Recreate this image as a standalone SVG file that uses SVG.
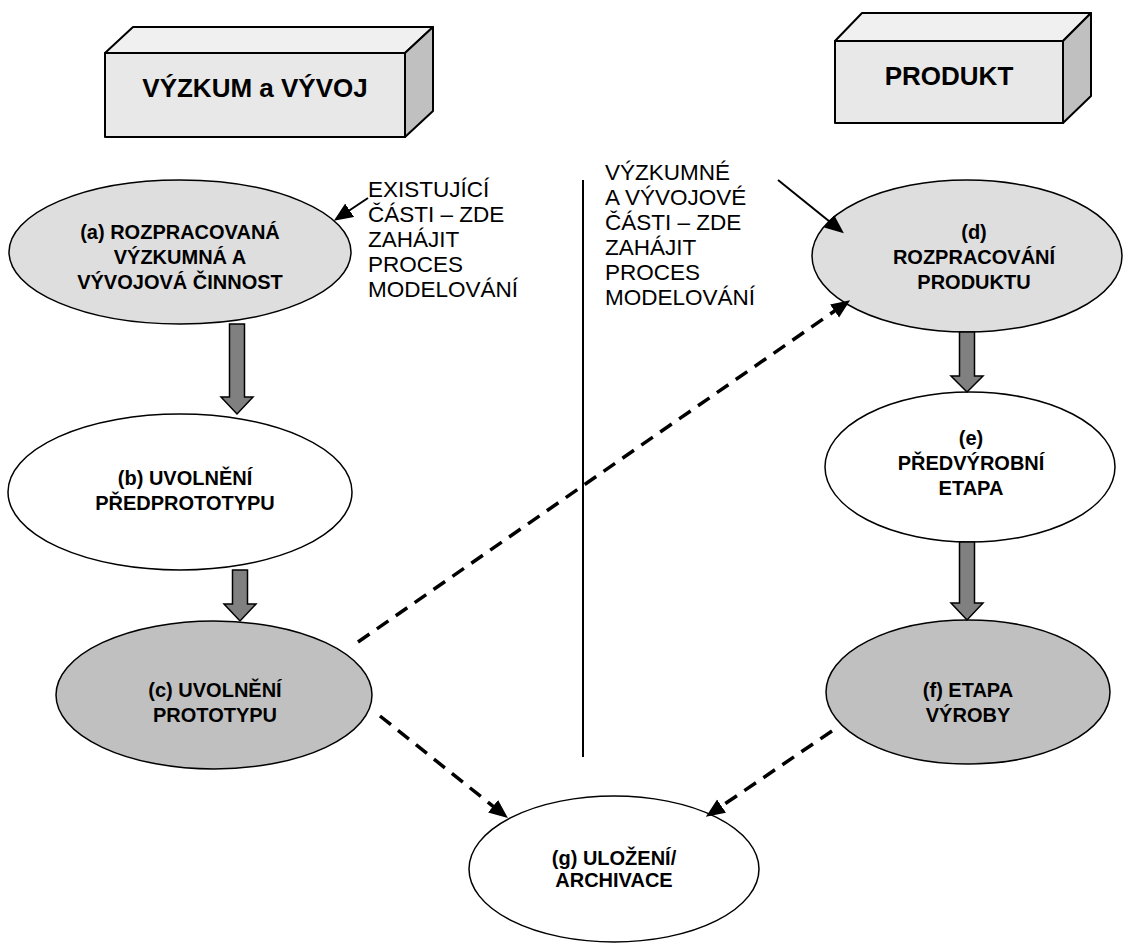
<svg xmlns="http://www.w3.org/2000/svg" width="1131" height="945" viewBox="0 0 1131 945">
<defs>
<marker id="ah" markerUnits="userSpaceOnUse" markerWidth="20" markerHeight="18" refX="14" refY="8" orient="auto">
<path d="M0,0 L19,8 L0,16 Z" fill="#000"/>
</marker>
<style>
.bf{fill:#e8e8e8;stroke:#000;stroke-width:2;stroke-linejoin:round}
.bt{fill:#f0f0f0;stroke:#000;stroke-width:2;stroke-linejoin:round}
.br{fill:#c0c0c0;stroke:#000;stroke-width:2;stroke-linejoin:round}
.hd{font-family:"Liberation Sans",Arial,sans-serif;font-weight:bold;font-size:26px;text-anchor:middle;fill:#000}
.nt{font-family:"Liberation Sans",Arial,sans-serif;font-weight:bold;font-size:20px;text-anchor:middle;fill:#000}
.st{font-family:"Liberation Sans",Arial,sans-serif;font-size:22.5px;fill:#000}
.e{stroke:#000;stroke-width:1.5}
.lg{fill:#dedede}
.dg{fill:#c0c0c0}
.wh{fill:#fff}
.blk{fill:#808080;stroke:#000;stroke-width:1.5;stroke-linejoin:miter}
.dash{fill:none;stroke:#000;stroke-width:3.5;stroke-dasharray:14 9}
.sol{fill:none;stroke:#000;stroke-width:2}
</style>
</defs>
<rect width="1131" height="945" fill="#fff"/>

<g id="box-vyzkum">
<polygon class="bt" points="105,53 133,27 433,27 405,53"/>
<polygon class="br" points="405,53 433,27 433,111 405,137"/>
<rect class="bf" x="105" y="53" width="300" height="84"/>
<text class="hd" x="255" y="97">VÝZKUM a VÝVOJ</text>
</g>

<g id="box-produkt">
<polygon class="bt" points="835,41 862,13 1091,13 1063,41"/>
<polygon class="br" points="1063,41 1091,13 1091,96 1063,123"/>
<rect class="bf" x="835" y="41" width="228" height="82"/>
<text class="hd" x="949" y="85">PRODUKT</text>
</g>

<g id="divider">
<line x1="583" y1="180" x2="583" y2="757" stroke="#000" stroke-width="2"/>
</g>

<g id="note-left">
<text class="st" x="368" y="197">EXISTUJÍCÍ</text>
<text class="st" x="368" y="222">ČÁSTI – ZDE</text>
<text class="st" x="368" y="247">ZAHÁJIT</text>
<text class="st" x="368" y="272">PROCES</text>
<text class="st" x="368" y="297">MODELOVÁNÍ</text>
</g>

<g id="note-right">
<text class="st" x="605" y="180">VÝZKUMNÉ</text>
<text class="st" x="605" y="205">A VÝVOJOVÉ</text>
<text class="st" x="605" y="230">ČÁSTI – ZDE</text>
<text class="st" x="605" y="255">ZAHÁJIT</text>
<text class="st" x="605" y="280">PROCES</text>
<text class="st" x="605" y="305">MODELOVÁNÍ</text>
</g>

<g id="node-a">
<ellipse class="e lg" cx="180" cy="252" rx="171" ry="72"/>
<text class="nt" x="180" y="239">(a) ROZPRACOVANÁ</text>
<text class="nt" x="180" y="264">VÝZKUMNÁ A</text>
<text class="nt" x="180" y="289">VÝVOJOVÁ ČINNOST</text>
</g>

<g id="node-b">
<ellipse class="e wh" cx="180" cy="492" rx="172" ry="78"/>
<text class="nt" x="185" y="485">(b) UVOLNĚNÍ</text>
<text class="nt" x="185" y="510">PŘEDPROTOTYPU</text>
</g>

<g id="node-c">
<ellipse class="e dg" cx="214" cy="695" rx="158" ry="74"/>
<text class="nt" x="215" y="697">(c) UVOLNĚNÍ</text>
<text class="nt" x="215" y="722">PROTOTYPU</text>
</g>

<g id="node-d">
<ellipse class="e lg" cx="967" cy="256" rx="155" ry="76"/>
<text class="nt" x="974" y="239">(d)</text>
<text class="nt" x="974" y="264">ROZPRACOVÁNÍ</text>
<text class="nt" x="974" y="289">PRODUKTU</text>
</g>

<g id="node-e">
<ellipse class="e wh" cx="970" cy="467" rx="145" ry="75"/>
<text class="nt" x="971" y="445">(e)</text>
<text class="nt" x="971" y="470">PŘEDVÝROBNÍ</text>
<text class="nt" x="971" y="495">ETAPA</text>
</g>

<g id="node-f">
<ellipse class="e dg" cx="968" cy="692" rx="142" ry="72"/>
<text class="nt" x="968" y="697">(f) ETAPA</text>
<text class="nt" x="968" y="722">VÝROBY</text>
</g>

<g id="node-g">
<ellipse class="e wh" cx="614" cy="869" rx="145" ry="73"/>
<text class="nt" x="614" y="865">(g) ULOŽENÍ/</text>
<text class="nt" x="614" y="887">ARCHIVACE</text>
</g>

<g id="connectors">
<path class="blk" d="M229.5,324 H244.5 V397 H253 L237,414 L221,397 H229.5 Z"/>
<path class="blk" d="M232.5,570 H247.5 V604 H256 L240,621 L224,604 H232.5 Z"/>
<path class="blk" d="M959.5,332 H974.5 V376 H983 L967,392 L951,376 H959.5 Z"/>
<path class="blk" d="M959.5,542 H974.5 V603 H983 L967,620 L951,603 H959.5 Z"/>
<line class="dash" x1="358" y1="642" x2="846" y2="303" marker-end="url(#ah)"/>
<line class="dash" x1="380" y1="716" x2="504" y2="815" marker-end="url(#ah)"/>
<line class="dash" x1="832" y1="731" x2="710" y2="814" marker-end="url(#ah)"/>
<line class="sol" x1="368" y1="198" x2="338" y2="218" marker-end="url(#ah)"/>
<line class="sol" x1="778" y1="180" x2="840" y2="230" marker-end="url(#ah)"/>
</g>
</svg>
